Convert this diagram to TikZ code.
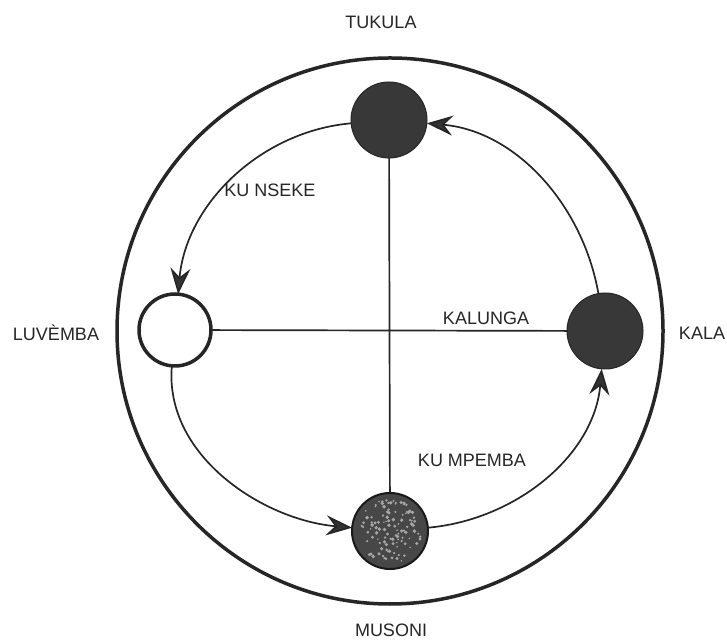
\documentclass[tikz,border=0pt]{standalone}
\usepackage{fontspec}
\setmainfont{Liberation Sans}
\usetikzlibrary{arrows.meta}
\begin{document}
\begin{tikzpicture}[x=1pt,y=1pt,
  lab/.style={font=\fontsize{18}{21}\selectfont, text=black!85, inner sep=0pt},
  planet/.style={circle, minimum size=76pt, inner sep=0pt, outer sep=0pt},
  orbit/.style={line width=1.7pt, draw=black!85},
  tip/.style={-{Stealth[length=26pt,width=20pt,inset=9pt,fill=black!80]}}
]
\useasboundingbox (0,0) rectangle (727,639);
\fill[white] (0,0) rectangle (727,639);
% outer ring
\draw[line width=3.5pt, black!85] (390,308) circle (273pt);
% planets
\node[planet, fill=black!78, draw=black!85, line width=1pt] (T) at (389,519) {};
\node[planet, fill=white, draw=black!85, line width=3.5pt, minimum size=72pt] (L) at (175,309) {};
\node[planet, fill=black!78, draw=black!85, line width=1pt] (R) at (605,308) {};
\node[planet, fill=black!72, draw=black!90, line width=2pt] (B) at (390,108) {};
% speckles on the bottom planet
\pgfmathsetseed{7}
\foreach \i in {1,...,110}{
  \pgfmathsetmacro\ang{rnd*360}
  \pgfmathsetmacro\rad{sqrt(rnd)*32}
  \pgfmathsetmacro\sz{0.8+rnd*1.2}
  \fill[black!35] (B) ++(\ang:\rad pt) circle (\sz pt);
}
% cross lines
\draw[orbit] (T) -- (B);
\draw[orbit] (L) -- (R);
% orbit arcs
\draw[orbit, tip] (R) to[out=100, in=-5, looseness=0.95] (T);
\draw[orbit, tip] (T) to[out=185, in=85, looseness=0.95] (L);
\draw[orbit, tip] (L) to[out=265, in=175, looseness=0.95] (B);
\draw[orbit, tip] (B) to[out=5, in=265, looseness=0.95] (R);
% labels
\node[lab] (tukula) at (381,617) {TUKULA};
\node[lab] (musoni) at (391,9) {MUSONI};
\node[lab] (luvemba) at (56,306) {LUVÈMBA};
\node[lab] (kala) at (702,306) {KALA};
\node[lab] (kalunga) at (486,321) {KALUNGA};
\node[lab] (nseke) at (270,449) {KU NSEKE};
\node[lab] (mpemba) at (472,179) {KU MPEMBA};
\end{tikzpicture}
\end{document}
